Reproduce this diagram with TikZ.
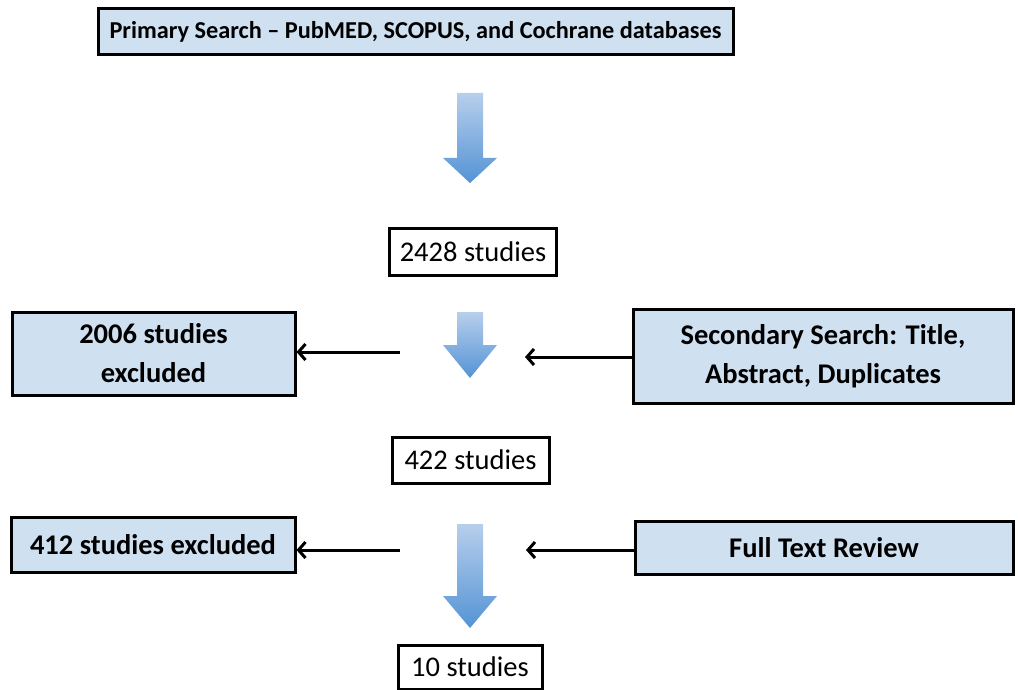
\documentclass[tikz,border=0pt]{standalone}
\usepackage{fontspec}
\setmainfont{Carlito}
\usetikzlibrary{arrows.meta}

\definecolor{boxblue}{RGB}{207,224,241}
\definecolor{arrowtop}{RGB}{183,207,236}
\definecolor{arrowbot}{RGB}{84,147,213}

\tikzset{
  stagebox/.style={draw=black, line width=3pt, fill=boxblue, align=center,
    inner sep=0pt, font=\fontsize{28.5}{39}\selectfont\bfseries},
  countbox/.style={draw=black, line width=3pt, fill=white, align=center,
    inner sep=0pt, font=\fontsize{28.5}{34}\selectfont},
  sidearrow/.style={line width=3pt, -{Straight Barb[length=7pt,width=16pt,line width=3pt]}}
}

% block arrow pointing down: x centre, top, start of head, tip
\newcommand{\flowdown}[4]{%
  \shade[top color=arrowtop, bottom color=arrowbot]
    (#1-13,#2) -- (#1+13,#2) -- (#1+13,#3) -- (#1+27,#3) -- (#1,#4)
    -- (#1-27,#3) -- (#1-13,#3) -- cycle;}

\begin{document}
\begin{tikzpicture}[x=1pt,y=-1pt]
        \useasboundingbox (0,0) rectangle (1018,690);

        \node[stagebox, minimum width=635pt, minimum height=46pt,
          font=\fontsize{24.3}{30}\selectfont\bfseries] (primary) at (415.5,32)
          {Primary Search -- PubMED, SCOPUS, and Cochrane databases};

        \node[countbox, minimum width=167pt, minimum height=47pt] (found) at (473,251.5) {2428 studies};
        \node[countbox, minimum width=157pt, minimum height=46pt] (screened) at (470.5,460) {422 studies};
        \node[countbox, minimum width=144pt, minimum height=44pt] (included) at (470,667) {10 studies};

        \node[stagebox, minimum width=283pt, minimum height=83pt] (excla) at (153.5,353.5)
          {2006 studies\\excluded};
        \node[stagebox, minimum width=380pt, minimum height=94pt] (secondary) at (823,356)
          {Secondary Search: Title,\\Abstract, Duplicates};
        \node[stagebox, minimum width=284pt, minimum height=55pt] (exclb) at (153,544.5)
          {412 studies excluded};
        \node[stagebox, minimum width=378pt, minimum height=53pt] (fulltext) at (824,547.5)
          {Full Text Review};

        \flowdown{470}{93}{158}{183}
        \flowdown{470}{312}{345}{378}
        \flowdown{470}{524}{596}{628}

        \coordinate (outa) at (400,352);
        \coordinate (ina) at (525,357);
        \coordinate (outb) at (400,550);
        \coordinate (inb) at (526,550);

        \draw[sidearrow] (outa) -- (outa -| excla.east);
        \draw[sidearrow] (ina -| secondary.west) -- (ina);
        \draw[sidearrow] (outb) -- (outb -| exclb.east);
        \draw[sidearrow] (inb -| fulltext.west) -- (inb);

\end{tikzpicture}
\end{document}
